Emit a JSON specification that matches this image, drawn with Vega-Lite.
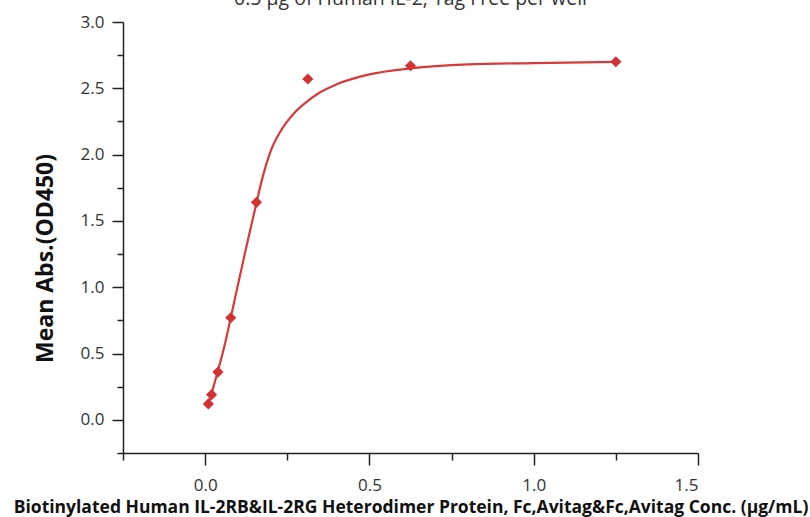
{
  "$schema": "https://vega.github.io/schema/vega-lite/v6.json",
  "autosize": {"type": "none"},
  "width": 575,
  "height": 431,
  "padding": {"left": 123, "top": 22, "right": 112, "bottom": 64},
  "background": "white",
  "title": {
    "text": "0.5 μg of Human IL-2, Tag Free per well",
    "font": "Open Sans",
    "fontSize": 19.5,
    "fontWeight": "normal",
    "color": "#333333",
    "anchor": "middle",
    "baseline": "alphabetic",
    "offset": -11
  },
  "config": {
    "view": {"stroke": null},
    "axis": {
      "grid": false,
      "domainColor": "#222222",
      "domainWidth": 1.5,
      "tickColor": "#222222",
      "tickWidth": 1.5,
      "labelFont": "Open Sans",
      "labelFontSize": 17,
      "labelColor": "#333333",
      "titleFont": "Open Sans",
      "titleColor": "#111111",
      "titleFontWeight": "bold"
    }
  },
  "datasets": {
    "curve": [
      {"conc": 0.0098, "od": 0.12},
      {"conc": 0.0195, "od": 0.20},
      {"conc": 0.039, "od": 0.37},
      {"conc": 0.06, "od": 0.57},
      {"conc": 0.078, "od": 0.77},
      {"conc": 0.1, "od": 1.02},
      {"conc": 0.125, "od": 1.30},
      {"conc": 0.15, "od": 1.57},
      {"conc": 0.175, "od": 1.83},
      {"conc": 0.2, "od": 2.03},
      {"conc": 0.233, "od": 2.19},
      {"conc": 0.27, "od": 2.31},
      {"conc": 0.305, "od": 2.39},
      {"conc": 0.35, "od": 2.47},
      {"conc": 0.4, "od": 2.53},
      {"conc": 0.5, "od": 2.605},
      {"conc": 0.625, "od": 2.65},
      {"conc": 0.8, "od": 2.68},
      {"conc": 1.0, "od": 2.69},
      {"conc": 1.25, "od": 2.70}
    ],
    "points": [
      {"conc": 0.0098, "od": 0.12},
      {"conc": 0.0195, "od": 0.19},
      {"conc": 0.039, "od": 0.36},
      {"conc": 0.078, "od": 0.77},
      {"conc": 0.156, "od": 1.64},
      {"conc": 0.3125, "od": 2.57},
      {"conc": 0.625, "od": 2.67},
      {"conc": 1.25, "od": 2.70}
    ]
  },
  "layer": [
    {
      "data": {"name": "curve"},
      "mark": {"type": "line", "color": "#d63a3a", "strokeWidth": 2.2, "interpolate": "monotone"},
      "encoding": {
        "x": {
          "field": "conc", "type": "quantitative",
          "scale": {"domain": [-0.25, 1.5], "nice": false, "zero": false},
          "axis": {
            "orient": "bottom",
            "values": [0, 0.5, 1.0, 1.5],
            "format": ".1f",
            "tickSize": 12,
            "labelPadding": 12,
            "title": "Biotinylated Human IL-2RB&IL-2RG Heterodimer Protein, Fc,Avitag&Fc,Avitag Conc. (μg/mL)",
            "titleFontSize": 17.5,
            "titleAnchor": "middle",
            "titleBaseline": "alphabetic",
            "titleY": 59
          }
        },
        "y": {
          "field": "od", "type": "quantitative",
          "scale": {"domain": [-0.25, 3.0], "nice": false, "zero": false},
          "axis": {
            "orient": "left",
            "values": [0, 0.5, 1.0, 1.5, 2.0, 2.5, 3.0],
            "format": ".1f",
            "tickSize": 11,
            "labelPadding": 8,
            "title": "Mean Abs.(OD450)",
            "titleFontSize": 23,
            "titleAngle": -90,
            "titleAlign": "center",
            "titleBaseline": "middle",
            "titleX": -78,
            "titleY": 236
          }
        }
      }
    },
    {
      "data": {"name": "points"},
      "mark": {"type": "point", "shape": "diamond", "filled": true, "color": "#d23232", "opacity": 1, "size": 125},
      "encoding": {
        "x": {
          "field": "conc", "type": "quantitative",
          "axis": {
            "orient": "bottom",
            "values": [-0.25, 0.25, 0.75, 1.25],
            "labels": false,
            "domain": false,
            "tickSize": 7,
            "title": null
          }
        },
        "y": {
          "field": "od", "type": "quantitative",
          "axis": {
            "orient": "left",
            "values": [-0.25, 0.25, 0.75, 1.25, 1.75, 2.25, 2.75],
            "labels": false,
            "domain": false,
            "tickSize": 6,
            "title": null
          }
        }
      }
    }
  ],
  "resolve": {"axis": {"x": "independent", "y": "independent"}}
}
